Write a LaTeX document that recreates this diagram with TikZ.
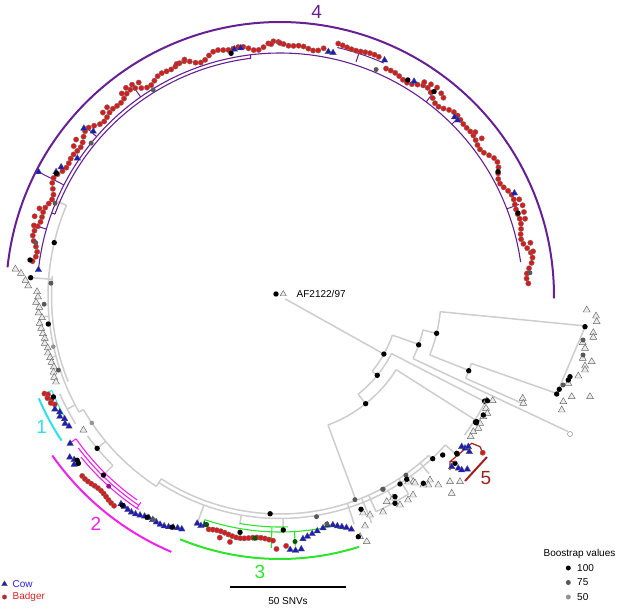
\documentclass[tikz,border=0pt]{standalone}
\usepackage{fontspec}
\setmainfont{Liberation Sans}
\usetikzlibrary{shapes.geometric}
\definecolor{badred}{RGB}{212,30,30}
\definecolor{cowblue}{RGB}{28,28,190}
\definecolor{cowtext}{RGB}{35,35,225}
\definecolor{badtext}{RGB}{222,35,35}
\definecolor{cfour}{RGB}{102,32,148}
\definecolor{cone}{RGB}{45,225,235}
\definecolor{ctwo}{RGB}{238,35,232}
\definecolor{cthree}{RGB}{45,228,45}
\definecolor{cfive}{RGB}{158,30,30}
\definecolor{brgrey}{RGB}{205,205,205}
\tikzset{
  br/.style={draw=brgrey,line width=1.5pt},
  rd/.style={circle,fill=badred,draw=black!55,line width=0.3pt,minimum size=5.4pt,inner sep=0pt},
  bt/.style={regular polygon,regular polygon sides=3,fill=cowblue,draw=black!65,line width=0.3pt,minimum size=7.6pt,inner sep=0pt},
  gt/.style={regular polygon,regular polygon sides=3,fill=black!8,draw=black!60,line width=0.45pt,minimum size=8pt,inner sep=0pt},
  nA/.style={circle,fill=black,minimum size=5.4pt,inner sep=0pt},
  nB/.style={circle,fill=black!65,minimum size=5pt,inner sep=0pt},
  nC/.style={circle,fill=black!42,minimum size=4.6pt,inner sep=0pt},
  ng/.style={circle,fill=green!35!black,minimum size=5pt,inner sep=0pt},
  opendot/.style={circle,fill=white,draw=black!45,line width=0.5pt,minimum size=5pt,inner sep=0pt},
  bigarc/.style={line width=2pt},
  subline/.style={line width=1.1pt},
  lab/.style={font=\fontsize{19}{19}\selectfont,inner sep=0pt},
  txt/.style={font=\fontsize{10}{12}\selectfont,inner sep=0pt},
}
\begin{document}
\begin{tikzpicture}[x=1pt,y=-1pt]
\useasboundingbox (0,0) rectangle (617,609);
\begin{scope}[shift={(280,296)}]
% ---------- grey branches: arcs
\foreach \a/\b/\r in {19.2/39.2/119, 13.4/25.2/147, 5.6/21.5/161, 19.4/23.9/203,
   27.3/51.5/125.5, 32.4/69.6/137.6, 47/123/218, 42/123/222.5, 123/150/227,
   150/203/232, 158/185/228.5, 134.6/144/238, 148/156/241, 27/37/231, 57/66/236}
  \draw[br] plot[domain=\a:\b,samples=40] (\x:\r);
% ---------- grey branches: radial lines
\foreach \t/\r/\s in {29.2/6/119, 19.2/119/147, 39.2/119/125.5, 51.5/125.5/137.6,
   13.4/147/161, 5.6/161/306.5, 21.5/161/203, 19.4/203/293, 23.9/203/264,
   25.2/147/318, 27.3/125.5/231, 32.4/137.6/231, 69.6/137.6/218, 123/218/227,
   150/227/232, 203/232/243, 184.2/228.5/252, 140.2/227/238, 134.6/238/251.5,
   152/232/241, 89.2/222.5/234, 72/218/240, 42/222.5/237, 47/218/222.5,
   50/218/232, 54/222.5/229, 57/218/236, 61/222.5/237, 66/218/236, 68/218/245,
   110/222.5/240, 100/222.5/232, 175/232/240, 165/232/238}
  \draw[br] (\t:\r) -- (\t:\s);
% ---------- clade 4
\draw[cfour,bigarc] plot[domain=186:360.5,samples=150] (\x:274);
\draw[cfour,subline] plot[domain=186:352,samples=150] (\x:243);
\draw[cfour,subline] plot[domain=200:263,samples=60] (\x:239.5);
\draw[cfour,subline] (200:239.5) -- (200:243) (263:239.5) -- (263:243);
\foreach \t/\r/\s in {207.2/243/271, 221/243/258, 235/243/255, 288/246/256, 307/243/257, 339/243/256, 196/243/253, 315/243/250}
  \draw[cfour,line width=1pt] (\t:\r) -- (\t:\s);
\draw[cfour,line width=1pt] plot[domain=283:294,samples=20] (\x:255);
% ---------- clade 1
\draw[cone,bigarc] plot[domain=146.5:157,samples=20] (\x:262);
\draw[cone,line width=1pt] plot[domain=151:157.5,samples=10] (\x:247);
\draw[cone,line width=1pt] (157.5:247) -- (157.5:251);
% ---------- clade 2
\draw[ctwo,bigarc] plot[domain=113:145,samples=40] (\x:278);
\foreach \a/\b/\r in {125/145/249, 124/143/252.5, 123.5/141/256}
  \draw[ctwo,line width=1.1pt] plot[domain=\a:\b,samples=30] (\x:\r);
\draw[ctwo,line width=1.1pt] (145:249) -- (145:256) (124:249) -- (124:256);
% ---------- clade 3
\draw[cthree,bigarc] plot[domain=72.5:112.3,samples=40] (\x:263);
\draw[cthree,line width=1.1pt] plot[domain=76:108.6,samples=40] (\x:236);
\draw[cthree,line width=1.1pt] plot[domain=88:100,samples=20] (\x:231);
\draw[cthree,line width=1.1pt] (92:231) -- (92:252) (86.5:236) -- (86.5:250) (108.6:236) -- (108.6:241) (76:236) -- (76:240);
% ---------- clade 4 tips
\foreach \a [count=\k] in {188,189.15,...,281}
  \node[rd] (pa\k) at (\a:{251+2.5*sin(29*(\a-180))+2*cos(53*(\a-180))}) {};
\foreach \a [count=\k] in {283,284.05,...,293.5}
  \node[rd] (pb\k) at (\a:{258+1.2*sin(40*(\a-280))}) {};
\foreach \a [count=\k] in {295,296.15,...,358}
  \node[rd] (pc\k) at (\a:{251+2.5*sin(31*(\a-290))+2*cos(47*(\a-290))}) {};
\foreach \a/\r [count=\k] in {232/257, 233.5/259, 235/258, 236.5/256, 304/258, 305.5/260, 307/261,
   308.5/259, 309.5/257, 338/258, 339.5/259, 341/258, 342.5/257, 196/256, 198/258, 200/256,
   216/255, 217.5/257, 226/255, 227.5/256, 246/254, 248/255, 268/252, 270/253, 320/255,
   322/256, 348/256, 350/257}
  \node[rd] (pe\k) at (\a:\r) {};
\foreach \a/\r [count=\k] in {186.2/243, 207.2/271.5, 209/256, 210.5/254, 214.2/245, 220.5/258,
   221.4/249, 259.5/251, 261/251, 281.2/249, 282.3/249, 293.9/258, 302/253, 314.3/250,
   315.3/250, 336.3/256}
  \node[bt] (cb\k) at (\a:\r) {};
\foreach \a/\r/\s [count=\k] in {258.6/247.6/nA, 238.4/242/nB, 293/246/nB, 300.6/251/nA, 307/256/nA,
   330.3/251/nA, 340.8/252/nA, 354.7/251/nB, 208.7/255/nA, 219/243/nB, 188.2/252.6/nA, 192.3/250/nB}
  \node[\s] (cn\k) at (\a:\r) {};
% ---------- left grey tips
\foreach \a/\r [count=\k] in {185.8/266, 185/260, 183.5/255, 182.3/252, 181/243, 179.8/242, 178.5/244,
   177.3/241, 176/242, 174.8/239, 173.5/242, 172.3/241, 171/240, 169.8/239, 168.6/240,
   167.4/238, 166.2/239, 165/238, 163.8/238, 162.6/237, 161.4/239, 160.2/240, 159/240}
  \node[gt] (lg\k) at (\a:\r) {};
\foreach \a/\r/\s [count=\k] in {202.4/243.3/nB, 193.3/232/nA, 184.2/250/nA, 183.2/229.4/nB,
   173.1/233.4/nA, 167.4/232.3/nC, 161.5/233.7/nB, 178/236/nB}
  \node[\s] (ln\k) at (\a:\r) {};
% ---------- clade 1 tips
\foreach \a/\r [count=\k] in {157.5/255, 157/252, 156.3/254, 155.6/251, 155/253, 154.3/250}
  \node[rd] (oa\k) at (\a:\r) {};
\foreach \a/\r [count=\k] in {153.3/252, 152.2/249, 151.3/251, 150.3/248, 149.3/250, 148.3/248}
  \node[bt] (ob\k) at (\a:\r) {};
\node[gt] (og1) at (145.7:238) {};
\node[nA] (on1) at (156:248) {};
\node[nC] (on2) at (146:227) {};
% ---------- clade 2 tips
\foreach \a/\r [count=\k] in {144.9/256.5, 142.5/265, 141.5/263, 140.7/266}
  \node[bt] (ta\k) at (\a:\r) {};
\foreach \a [count=\k] in {137.7,136.85,...,128.2}
  \node[rd] (tb\k) at (\a:{266+1.5*sin(40*\a)}) {};
\foreach \a [count=\k] in {127.4,126.43,...,112.8}
  \node[bt] (tc\k) at (\a:{254+0.616*(\a-112.8)+1.2*sin(50*\a)}) {};
\foreach \a/\r/\s [count=\k] in {141/261/nA, 140.3/262/nA, 127/262/nA, 121/258/nA, 119.5/257/nB,
   115/255/nA, 140.2/238/nA, 134.6/251.5/nA}
  \node[\s] (tn\k) at (\a:\r) {};
\node[circle,fill=ctwo!60!black,minimum size=5pt,inner sep=0pt] (tn9) at (132:256) {};
% ---------- clade 3 tips
\foreach \a/\r [count=\k] in {110/242, 109/243, 108.2/241}
  \node[bt] (ha\k) at (\a:\r) {};
\foreach \a [count=\k] in {107,106.04,...,91.6}
  \node[rd] (hb\k) at (\a:{244+1.5*sin(37*\a)}) {};
\foreach \a/\r [count=\k] in {104/249, 101.5/251, 90.8/253, 88.6/250}
  \node[rd] (hc\k) at (\a:\r) {};
\foreach \a/\r [count=\k] in {87.7/254, 86.5/255, 85.2/254, 84.6/244, 83.5/242, 82.3/240, 81/238,
   79.5/236, 78.3/234, 77/235, 76/237, 75/239, 74/241, 73/244}
  \node[bt] (hd\k) at (\a:\r) {};
\foreach \a/\r/\s [count=\k] in {107.8/240/ng, 99.6/239.7/nA, 89.2/234/nA, 78.4/232.7/nB,
   95.9/243.6/ng, 86.5/246/ng, 92.6/218/nA, 80.6/223.7/nB}
  \node[\s] (hn\k) at (\a:\r) {};
% ---------- backbone node dots
\foreach \a/\r/\s [count=\k] in {29.2/119/nA, 39.2/125.5/nA, 51.5/137.6/nA, 19.4/147/nA, 13.4/161/nA,
   21.6/203/nA, 69.8/217/nB, 27.2/230/nA, 32.8/232.6/nA, 61.9/219/nB, 54.9/219/nB}
  \node[\s] (bn\k) at (\a:\r) {};
\end{scope}
% ---------- lower right cluster (pixel coordinates)
\foreach \x/\y [count=\k] in {486.7/400.7, 492.7/400.7, 486/408.3, 487.3/413.3, 483.3/416.7,
   480/423.3, 478.3/428.3, 473.3/431.7, 470.7/436.7, 451.7/493.3, 460/481.7, 450/481.7,
   438.3/485, 430/480, 428.3/485, 423.3/485, 413.3/481.7, 408/482, 415/483, 386.7/501.7,
   393/498, 413/495, 365/526, 363/513, 383/512, 370/515, 400/505, 408/500, 522.7/398.3,
   523.3/403.3, 586.7/310, 596/316, 596.7/321.7, 593.3/332.7, 593.3/337.3, 582.7/342.7,
   585/348.3, 582.7/358.3, 591.7/361.7, 585/366, 585/370, 578.3/376, 568.3/383.3,
   571.7/396.7, 563.3/401.7, 561.7/410, 590/396.7, 366.7/541.7, 360/536.7}
  \node[gt] (rg\k) at (\x,\y) {};
\draw[br] (585,327) -- (557,393);
\foreach \x/\y/\s [count=\k] in {487.3/400.7/nA, 483.3/415/nA, 476/422.7/nA, 432.7/458.7/nA,
   442.7/455/nA, 457.3/454/nA, 455/463.3/nA, 476.7/421.7/nA, 400/484/nA, 406.7/479.3/nA,
   423.3/483.3/nA, 395/496.7/nA, 382.7/489.3/nB, 395/503.3/nA, 361/509.3/nA, 585/326.7/nA,
   583/340/nB, 583/355/nB, 570/376.7/nA, 568.3/380/nA, 559.3/389.3/nA, 556.7/394/nA,
   563/385/nB, 358.3/536.7/nA}
  \node[\s] (rn\k) at (\x,\y) {};
\node[opendot] (oc) at (570,434) {};
% ---------- clade 5
\draw[cfive,line width=1.2pt] (450,470) -- (450,461.7) -- (471.7,443.3) -- (480,446.7) -- (482.7,452.7);
\draw[cfive,line width=1.2pt] (450,461.7) -- (457,461.7);
\draw[cfive,bigarc] (465,481) -- (487,457);
\foreach \x/\y [count=\k] in {461.7/446.7, 465/448.3, 468.3/446.7, 469.3/451.7, 451.7/466.7,
   458.3/468.3, 461.7/470, 467.3/469.3}
  \node[bt] (fb\k) at (\x,\y) {};
\node[rd] (fr1) at (482.7,452.7) {};
\node[nA] (fn1) at (456.7,453.3) {};
% ---------- outgroup
\node[nA] (agd) at (276,294) {};
\node[gt,minimum size=7pt] (agt) at (283.3,294) {};
\node[txt,anchor=west] (agl) at (296.5,294) {AF2122/97};
% ---------- clade labels
\node[lab,text=cfour] (l4) at (316.7,11.7) {4};
\node[lab,text=cone] (l1) at (41.7,426.7) {1};
\node[lab,text=ctwo] (l2) at (96,524) {2};
\node[lab,text=cthree] (l3) at (260,572) {3};
\node[lab,text=cfive] (l5) at (486,478) {5};
% ---------- scale bar
\coordinate (sb1) at (230,587);
\coordinate (sb2) at (346,587);
\draw[line width=1.5pt] (sb1) -- (sb2);
\node[txt] (sbt) at (288,601) {50 SNVs};
% ---------- species legend
\node[bt,minimum size=6.5pt] (lgc) at (4.5,584) {};
\node[txt,anchor=west,text=cowtext] (lgct) at (12.5,584) {Cow};
\node[rd,minimum size=4.6pt] (lgb) at (4.5,597) {};
\node[txt,anchor=west,text=badtext] (lgbt) at (12.5,597) {Badger};
% ---------- bootstrap legend
\node[txt] (bst) at (579.5,554) {Boostrap values};
\node[nA,minimum size=5pt] (bs1) at (568.3,568) {};
\node[nB,minimum size=5pt] (bs2) at (568.3,582.5) {};
\node[nC,minimum size=5pt] (bs3) at (568.3,597) {};
\node[txt,anchor=west] (bs1t) at (577,568) {100};
\node[txt,anchor=west] (bs2t) at (577,582.5) {75};
\node[txt,anchor=west] (bs3t) at (577,597) {50};
\end{tikzpicture}
\end{document}
